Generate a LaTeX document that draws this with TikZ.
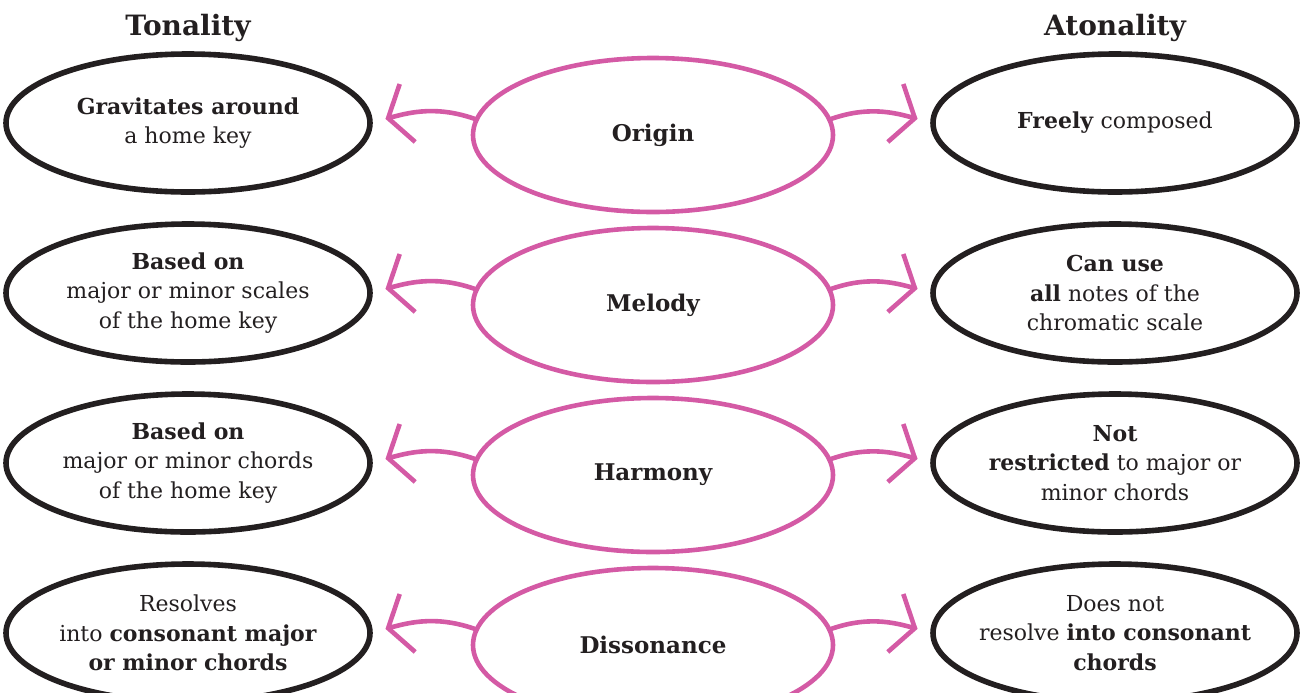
\documentclass[tikz,border=0pt]{standalone}
\usepackage{fontspec}
\setmainfont{DejaVu Serif}
\usepackage{xcolor}
\usetikzlibrary{arrows.meta,positioning,shapes.geometric}
\definecolor{rosepink}{RGB}{212,90,165}
\definecolor{inkblack}{RGB}{35,31,32}

\begin{document}
\begin{tikzpicture}[
    x=0.5pt,y=-0.5pt,
    side/.style={draw=inkblack,ellipse,line width=2.8pt,minimum width=182pt,minimum height=69pt,inner sep=-8pt,outer sep=0pt,align=center,text=inkblack,font=\fontsize{11}{14.75}\selectfont},
    topic/.style={draw=rosepink,ellipse,line width=2.3pt,minimum width=180pt,minimum height=77pt,inner sep=0pt,outer sep=0pt,text=inkblack,font=\fontsize{11.5}{14.75}\selectfont\bfseries},
    head/.style={inner sep=0pt,text=inkblack,font=\fontsize{14}{16}\selectfont\bfseries},
    link/.style={draw=rosepink,line width=2.3pt,line cap=round,line join=round,-{Straight Barb[length=10pt,width=30pt]},shorten >=8pt}
]
\useasboundingbox (0,0) rectangle (1301,692);
% middle column
\node[topic] (origin) at (653,135) {Origin};
\node[topic,below=8pt of origin] (melody) {Melody};
\node[topic,below=8pt of melody] (harmony) {Harmony};
\node[topic,below=8pt of harmony] (dissonance) {Dissonance};
% tonality side
\node[side,left=51.5pt of origin,yshift=6pt] (tonorigin) {\textbf{Gravitates around}\\a home key};
\node[side,left=51.5pt of melody,yshift=6pt] (tonmelody) {\textbf{Based on}\\major or minor scales\\of the home key};
\node[side,left=51.5pt of harmony,yshift=6pt] (tonharmony) {\textbf{Based on}\\major or minor chords\\of the home key};
\node[side,left=51.5pt of dissonance,yshift=6pt] (tondissonance) {Resolves\\into \textbf{consonant major}\\\textbf{or minor chords}};
% atonality side
\node[side,right=50pt of origin,yshift=6pt] (atoorigin) {\textbf{Freely} composed};
\node[side,right=50pt of melody,yshift=6pt] (atomelody) {\textbf{Can use}\\\textbf{all} notes of the\\chromatic scale};
\node[side,right=50pt of harmony,yshift=6pt] (atoharmony) {\textbf{Not}\\\textbf{restricted} to major or\\minor chords};
\node[side,right=50pt of dissonance,yshift=6pt] (atodissonance) {Does not\\resolve \textbf{into consonant}\\\textbf{chords}};
\node[head,above=6pt of tonorigin] (tonality) {Tonality};
\node[head,above=6pt of atoorigin] (atonality) {Atonality};
% arrows out of the middle
\draw[link] (origin.175) to[out=160,in=15] (tonorigin.east);
\draw[link] (origin.5) to[out=20,in=165] (atoorigin.west);
\draw[link] (melody.175) to[out=160,in=15] (tonmelody.east);
\draw[link] (melody.5) to[out=20,in=165] (atomelody.west);
\draw[link] (harmony.175) to[out=160,in=15] (tonharmony.east);
\draw[link] (harmony.5) to[out=20,in=165] (atoharmony.west);
\draw[link] (dissonance.175) to[out=160,in=15] (tondissonance.east);
\draw[link] (dissonance.5) to[out=20,in=165] (atodissonance.west);
\end{tikzpicture}
\end{document}
